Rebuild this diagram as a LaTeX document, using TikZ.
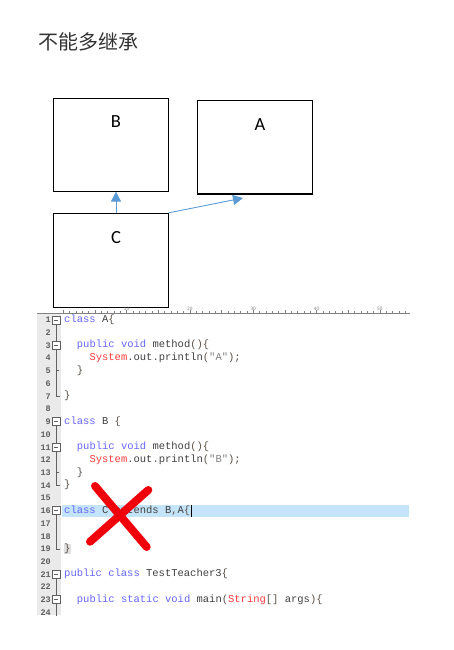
\documentclass[tikz,border=0pt]{standalone}
\usepackage{fontspec}
\setmonofont{Liberation Mono}
\newfontfamily\cjk{Noto Sans CJK SC}
\newfontfamily\lblfont{Carlito}
\usetikzlibrary{arrows.meta, positioning}
\usepackage{xcolor}
\definecolor{titlegray}{RGB}{51,51,51}
\definecolor{arrowblue}{RGB}{91,155,213}
\definecolor{kwblue}{RGB}{102,102,255}
\definecolor{idgray}{RGB}{64,64,64}
\definecolor{opgray}{RGB}{90,80,70}
\definecolor{strgray}{RGB}{128,128,128}
\definecolor{sysred}{RGB}{255,60,60}
\definecolor{hlblue}{RGB}{196,228,250}
\definecolor{guttergray}{RGB}{234,234,234}
\definecolor{foldgray}{RGB}{96,96,96}
\definecolor{xred}{RGB}{240,0,10}

\newcommand{\kw}[1]{\textcolor{kwblue}{#1}}
\newcommand{\jop}[1]{\textcolor{opgray}{#1}}
\newcommand{\jstr}[1]{\textcolor{strgray}{#1}}
\newcommand{\jred}[1]{\textcolor{sysred}{#1}}

\begin{document}
\begin{tikzpicture}[
    x=1pt, y=-1pt,
    title/.style={anchor=west, inner sep=0, font=\cjk\fontsize{20}{24}\selectfont, text=titlegray},
    classbox/.style={rectangle, draw=black, line width=1.1pt, minimum width=115pt, minimum height=93pt, inner sep=0},
    boxlabel/.style={inner sep=0, font=\lblfont\fontsize{18.5}{20}\selectfont},
    inherit/.style={-{Triangle[length=10pt, width=10pt]}, line width=0.9pt, arrowblue},
    codeline/.style={anchor=west, inner sep=0, text height=7.5pt, text depth=2.5pt, text=idgray, font=\ttfamily\fontsize{10.5}{12}\selectfont},
    lnum/.style={anchor=east, inner sep=0, text=foldgray, font=\ttfamily\bfseries\fontsize{8.5}{10}\selectfont},
    foldbox/.style={rectangle, draw=foldgray, fill=white, line width=0.8pt, minimum size=8pt, inner sep=0},
    foldline/.style={draw=foldgray, line width=0.8pt},
    tick/.style={draw=gray, line width=0.5pt},
    rulernum/.style={inner sep=0, text=gray, font=\sffamily\fontsize{5}{5}\selectfont},
    cross/.style={xred, line width=8pt, line cap=round},
]
\useasboundingbox (0,0) rectangle (454,650);

% title
\node[title] (title) at (38.5,42) {不能多继承};

% class boxes
\node[classbox] (B) at (110.8,144.6) {};
\node[classbox, minimum height=93.3pt] (A) at (254.8,147.3) {};
\node[classbox, minimum height=93.7pt] (C) at (110.8,260.2) {};
\node[boxlabel] (Blbl) at (116,122) {B};
\node[boxlabel] (Albl) at (260,125) {A};
\node[boxlabel] (Clbl) at (116,238) {C};

\coordinate (Atip) at (243,198);
\draw[inherit] (C.north -| Blbl) -- (B.south -| Blbl);
\draw[inherit] (C.north east) -- (Atip);

% editor
\begin{scope}
\clip (30,300) rectangle (420,615);
\fill[guttergray] (37,314) rectangle (61,615);
\draw[tick] (37,313) -- (410,313);
\foreach \k in {0,...,54}
    \draw[tick] ({63.3+6.33*\k},313) -- ++(0pt,2pt);
\foreach \k in {0,5,...,50}
    \draw[tick] ({63.3+6.33*\k},313) -- ++(0pt,3.5pt);
\foreach \k in {10,20,...,50}
    \node[rulernum] (r\k) at ({63.3+6.33*\k},308.5) {\k};

\begin{scope}[yshift=-307.28pt, y=-12.72pt]
\node[anchor=west, fill=hlblue, inner sep=0, minimum width=347pt, minimum height=12.4pt] (hl) at (62,16) {};

\foreach \n in {1,...,24}
    \node[lnum] (ln\n) at (51,\n) {\n};

% fold markers
\draw[foldline] (56,1) -- (56,7) -- (60,7);
\draw[foldline] (56,5) -- (59,5);
\draw[foldline] (56,9) -- (56,14) -- (60,14);
\draw[foldline] (56,13) -- (59,13);
\draw[foldline] (56,16) -- (56,19) -- (60,19);
\draw[foldline] (56,21) -- (56,25);
\foreach \n in {1,3,9,11,16,21,23} {
    \node[foldbox] (f\n) at (56,\n) {};
    \draw[foldline] ([xshift=2pt]f\n.west) -- ([xshift=-2pt]f\n.east);
}

% code
\node[codeline] (c1) at (64,1) {\kw{class} A\jop{\{}};
\node[codeline] (c3) at (76.7,3) {\kw{public} \kw{void} method\jop{()\{}};
\node[codeline] (c4) at (89.3,4) {\jred{System}\jop{.}out\jop{.}println\jop{(}\jstr{"A"}\jop{);}};
\node[codeline] (c5) at (76.7,5) {\jop{\}}};
\node[codeline] (c7) at (64,7) {\jop{\}}};
\node[codeline] (c9) at (64,9) {\kw{class} B \jop{\{}};
\node[codeline] (c11) at (76.7,11) {\kw{public} \kw{void} method\jop{()\{}};
\node[codeline] (c12) at (89.3,12) {\jred{System}\jop{.}out\jop{.}println\jop{(}\jstr{"B"}\jop{);}};
\node[codeline] (c13) at (76.7,13) {\jop{\}}};
\node[codeline] (c14) at (64,14) {\jop{\}}};
\node[codeline] (c16) at (64,16) {\kw{class} C extends B\jop{,}A\jop{\{}};
\node[codeline, fill=black!12, inner xsep=0.5pt] (c19) at (63.5,19) {\jop{\}}};
\node[codeline] (c21) at (64,21) {\kw{public} \kw{class} TestTeacher3\jop{\{}};
\node[codeline] (c23) at (76.7,23) {\kw{public} \kw{static} \kw{void} main\jop{(}\jred{String}\jop{[]} args\jop{)\{}};

% cursor
\draw[black, line width=1pt] (191.5,16) ++(0pt,6pt) -- ++(0pt,-12pt);
\end{scope}
\end{scope}

% red cross
\draw[cross] (95,486) -- (146.7,547);
\draw[cross] (148.3,490) -- (90,541.7);

\end{tikzpicture}
\end{document}
